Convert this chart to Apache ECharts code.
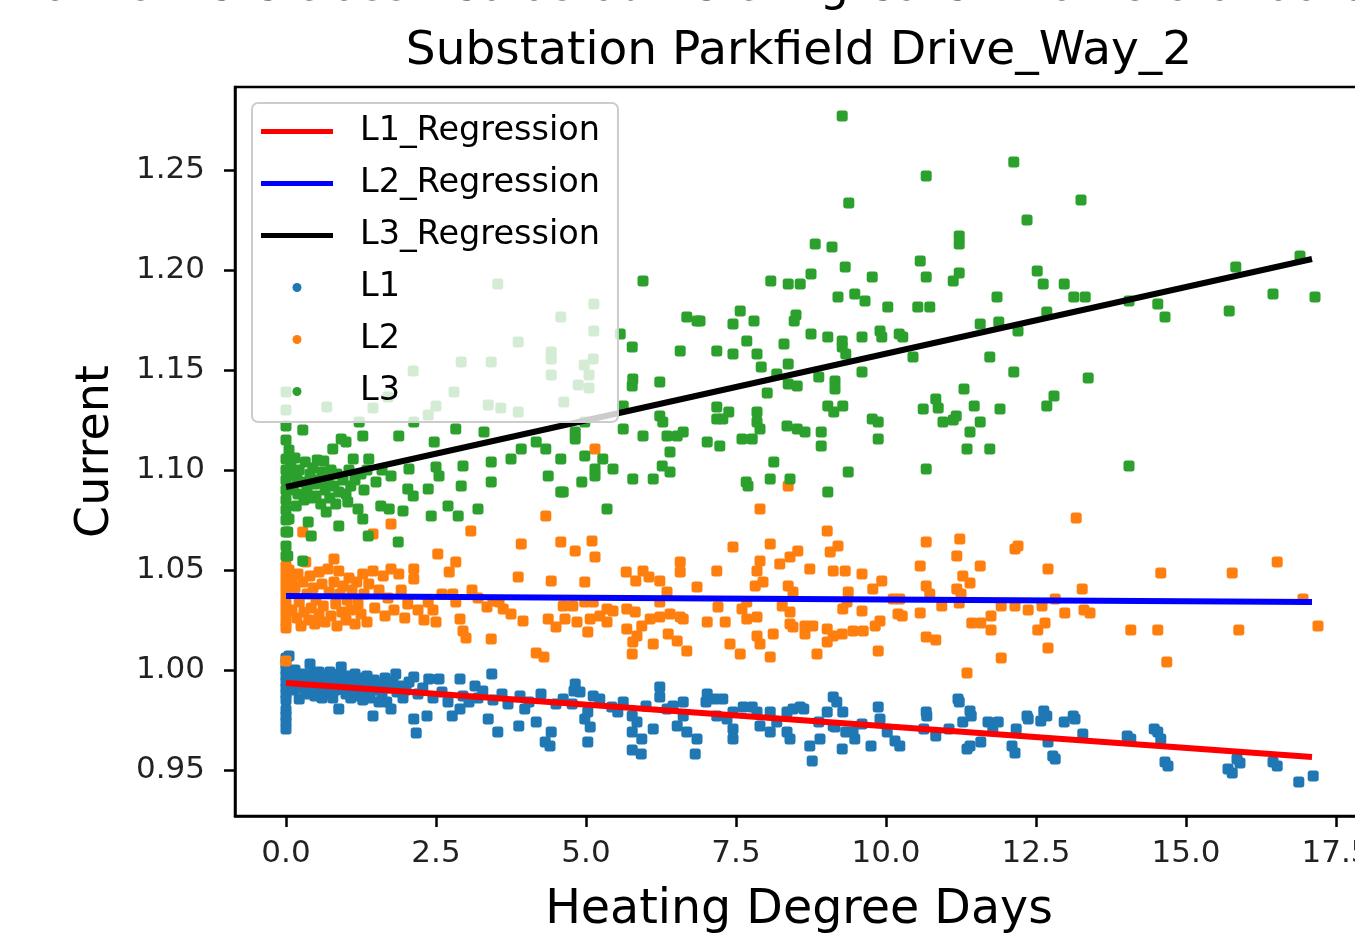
<!DOCTYPE html>
<html>
<head>
<meta charset="utf-8">
<script src="https://cdn.jsdelivr.net/npm/echarts@6/dist/echarts.min.js"></script>
<style>
html,body{margin:0;padding:0;background:#ffffff;}
#chart{width:1355px;height:934px;}
</style>
</head>
<body>
<div id="chart"></div>
<script>
// ---------- text ----------
const chartTitle = 'Substation Parkfield Drive_Way_2';
const topNote = 'Points were classified as outliers if greater than 3 standard deviations';
const xAxisTitle = 'Heating Degree Days';
const yAxisTitle = 'Current';

// ---------- ticks ----------
const xTickValues = [0, 2.5, 5, 7.5, 10, 12.5, 15, 17.5];
const yTickValues = [0.95, 1.00, 1.05, 1.10, 1.15, 1.20, 1.25];

// ---------- regression lines (x range and fitted values at ends) ----------
const regressionX = [0, 17.1];
const l1Regression = [0.9935, 0.9565];
const l2Regression = [1.037, 1.034];
const l3Regression = [1.0915, 1.2055];

// ---------- L1 points [heating degree days, current] ----------
const l1Points = [
[0,1.006],[0,1.003],[0,1.0],[0,0.997],[0,0.994],[0,0.991],[0,0.988],[0,0.985],[0,0.98],[0,0.977],[0,0.974],[0,0.9705],
[0.05,1.007],[0.05,0.999],[0.05,0.993],[0.1,0.996],[0.12,0.99],[0.15,1.0],[0.18,0.993],[0.2,0.997],[0.22,0.9855],[0.25,0.991],
[0.28,0.998],[0.3,0.994],[0.33,0.988],[0.35,0.996],[0.4,1.003],[0.42,0.992],[0.45,0.998],[0.48,0.987],[0.5,0.995],[0.53,0.99],
[0.55,0.999],[0.58,0.993],[0.6,0.986],[0.63,0.997],[0.65,0.991],[0.68,0.995],[0.7,0.988],[0.73,0.999],[0.75,0.993],[0.78,0.986],
[0.8,0.996],[0.83,0.99],[0.85,0.994],[0.88,0.9805],[0.9,0.998],[0.92,1.0015],[0.95,0.991],[0.98,0.995],[1.0,0.988],[1.03,0.997],
[1.05,0.992],[1.08,0.986],[1.1,0.995],[1.13,0.99],[1.15,0.998],[1.18,0.993],[1.2,0.987],[1.23,0.996],[1.25,0.991],[1.28,0.985],
[1.3,0.994],[1.33,0.989],[1.35,0.997],[1.38,0.992],[1.4,0.986],[1.45,0.977],[1.47,0.995],[1.5,0.99],[1.55,0.984],[1.58,0.993],
[1.6,0.988],[1.65,0.996],[1.68,0.984],[1.7,0.991],[1.75,0.9805],[1.78,0.994],[1.83,0.998],[1.85,0.989],[1.9,0.992],[1.95,0.986],
[2.0,0.99],[2.05,0.994],[2.13,0.9965],[2.13,0.9755],[2.17,0.9685],[2.2,0.988],[2.28,0.991],[2.35,0.977],[2.38,0.9955],[2.45,0.986],
[2.55,0.9955],[2.6,0.989],[2.7,0.984],[2.77,0.977],[2.9,0.9805],[2.9,0.9955],[2.95,0.987],[3.05,0.984],[3.15,0.992],[3.2,0.986],
[3.28,0.9895],[3.37,0.9755],[3.43,0.998],[3.45,0.985],[3.53,0.969],[3.6,0.988],[3.7,0.983],[3.88,0.972],[3.9,0.987],[3.98,0.9805],
[4.05,0.984],[4.17,0.974],[4.25,0.988],[4.32,0.964],[4.4,0.962],[4.42,0.969],[4.5,0.983],[4.62,0.9855],[4.77,0.983],[4.8,0.9895],
[4.82,0.993],[4.9,0.989],[4.98,0.9755],[5.03,0.979],[5.03,0.964],[5.07,0.9715],[5.12,0.987],[5.23,0.9855],[5.43,0.9815],[5.53,0.979],
[5.62,0.984],[5.77,0.977],[5.77,0.969],[5.77,0.96],[5.85,0.974],[5.92,0.958],[5.93,0.9655],[6.0,0.982],[6.12,0.9705],[6.23,0.9915],
[6.23,0.9865],[6.35,0.9805],[6.45,0.982],[6.52,0.972],[6.62,0.984],[6.62,0.977],[6.68,0.969],[6.82,0.958],[6.85,0.9655],[7.0,0.984],
[7.02,0.988],[7.15,0.9855],[7.18,0.977],[7.28,0.9855],[7.35,0.9755],[7.45,0.979],[7.45,0.9705],[7.45,0.9655],[7.62,0.9815],[7.77,0.9815],
[7.85,0.979],[7.9,0.972],[8.07,0.979],[8.07,0.969],[8.18,0.974],[8.35,0.979],[8.35,0.969],[8.4,0.9655],[8.45,0.9805],[8.57,0.9815],
[8.63,0.9805],[8.73,0.962],[8.77,0.9545],[8.88,0.974],[8.9,0.9655],[9.02,0.979],[9.12,0.9865],[9.12,0.972],[9.15,0.9715],[9.18,0.984],
[9.27,0.9605],[9.28,0.979],[9.33,0.969],[9.45,0.969],[9.48,0.9655],[9.6,0.973],[9.75,0.962],[9.87,0.9815],[9.9,0.9755],[10.02,0.969],
[10.15,0.9645],[10.23,0.962],[10.63,0.9705],[10.67,0.979],[10.68,0.977],[10.83,0.967],[11.05,0.9705],[11.2,0.9855],[11.22,0.984],[11.28,0.974],
[11.35,0.9605],[11.4,0.9795],[11.4,0.962],[11.42,0.977],[11.58,0.964],[11.7,0.974],[11.78,0.9705],[11.87,0.974],[12.1,0.962],[12.15,0.9585],
[12.17,0.9705],[12.35,0.977],[12.37,0.9755],[12.58,0.9745],[12.63,0.9795],[12.68,0.977],[12.7,0.964],[12.78,0.957],[12.82,0.9555],[12.97,0.974],
[13.12,0.977],[13.15,0.9755],[13.28,0.968],[14.02,0.967],[14.08,0.9655],[14.47,0.9705],[14.53,0.969],[14.58,0.9655],[14.65,0.954],[14.7,0.952],
[15.7,0.9505],[15.77,0.9485],[15.85,0.9555],[15.9,0.9535],[16.45,0.954],[16.52,0.952],[16.88,0.944],[17.12,0.947]
];

// ---------- L2 points ----------
const l2Points = [
[0,1.0045],[0,1.052],[0,1.048],[0,1.044],[0,1.04],[0,1.036],[0,1.032],[0,1.028],[0,1.024],[0,1.021],
[0.05,1.05],[0.1,1.045],[0.1,1.03],[0.15,1.041],[0.18,1.026],[0.2,1.048],[0.22,1.034],[0.25,1.022],[0.28,1.069],[0.28,1.044],
[0.3,1.029],[0.33,1.054],[0.35,1.038],[0.38,1.025],[0.4,1.047],[0.42,1.031],[0.45,1.041],[0.48,1.023],[0.5,1.035],[0.55,1.049],
[0.55,1.028],[0.6,1.043],[0.62,1.032],[0.65,1.024],[0.7,1.0505],[0.72,1.039],[0.75,1.027],[0.8,1.0555],[0.8,1.044],[0.83,1.033],
[0.85,1.022],[0.88,1.0495],[0.9,1.038],[0.93,1.029],[0.95,1.042],[1.0,1.025],[1.02,1.035],[1.05,1.046],[1.08,1.03],[1.1,1.04],
[1.15,1.023],[1.18,1.044],[1.2,1.033],[1.25,1.028],[1.28,1.048],[1.3,1.038],[1.35,1.024],[1.38,1.043],[1.45,1.0495],[1.45,1.068],
[1.48,1.031],[1.55,1.04],[1.62,1.047],[1.65,1.027],[1.7,1.036],[1.75,1.0505],[1.75,1.073],[1.8,1.03],[1.88,1.048],[1.92,1.04],
[1.98,1.026],[2.03,1.033],[2.13,1.0505],[2.13,1.0455],[2.2,1.03],[2.3,1.025],[2.37,1.034],[2.45,1.03],[2.5,1.024],[2.53,1.058],
[2.6,1.038],[2.72,1.049],[2.78,1.038],[2.83,1.054],[2.83,1.034],[2.9,1.0255],[2.95,1.0195],[3.0,1.016],[3.08,1.0695],[3.1,1.04],
[3.2,1.036],[3.35,1.0315],[3.42,1.0155],[3.45,1.0345],[3.55,1.034],[3.62,1.0305],[3.75,1.028],[3.87,1.0465],[3.92,1.063],[3.95,1.0245],
[4.17,1.0085],[4.3,1.0065],[4.33,1.077],[4.37,1.0255],[4.42,1.0445],[4.5,1.0215],[4.58,1.064],[4.62,1.032],[4.65,1.0255],[4.78,1.032],
[4.82,1.0595],[4.85,1.024],[4.98,1.044],[4.98,1.034],[5.03,1.019],[5.07,1.0255],[5.1,1.0645],[5.12,1.034],[5.15,1.0565],[5.15,1.1105],
[5.23,1.027],[5.35,1.0305],[5.35,1.024],[5.45,1.0295],[5.67,1.049],[5.68,1.0305],[5.68,1.0205],[5.77,1.008],[5.78,1.014],[5.82,1.029],
[5.83,1.0445],[5.85,1.017],[5.93,1.022],[5.95,1.0495],[6.05,1.0465],[6.07,1.0255],[6.12,1.013],[6.23,1.0445],[6.23,1.034],[6.23,1.0265],
[6.35,1.039],[6.37,1.018],[6.4,1.028],[6.52,1.0145],[6.57,1.054],[6.57,1.049],[6.57,1.0265],[6.62,1.0255],[6.68,1.0095],[6.85,1.0415],
[7.02,1.024],[7.18,1.0495],[7.2,1.0315],[7.32,1.024],[7.4,1.013],[7.45,1.0615],[7.57,1.008],[7.6,1.0305],[7.68,1.034],[7.68,1.0255],
[7.82,1.042],[7.85,1.0495],[7.85,1.0265],[7.85,1.017],[7.9,1.0805],[7.9,1.0545],[7.9,1.013],[7.95,1.044],[8.07,1.063],[8.07,1.0065],
[8.12,1.018],[8.23,1.053],[8.27,1.032],[8.37,1.092],[8.37,1.042],[8.4,1.0565],[8.4,1.029],[8.4,1.023],[8.45,1.039],[8.45,1.0215],
[8.53,1.0595],[8.65,1.018],[8.65,1.022],[8.73,1.0505],[8.78,1.022],[8.85,1.008],[9.02,1.0695],[9.02,1.0205],[9.02,1.014],[9.07,1.059],
[9.12,1.0495],[9.12,1.017],[9.2,1.062],[9.27,1.018],[9.28,1.0305],[9.32,1.0495],[9.35,1.034],[9.37,1.039],[9.45,1.0195],[9.6,1.048],
[9.6,1.0295],[9.62,1.0195],[9.78,1.0405],[9.82,1.022],[9.87,1.0095],[9.9,1.0245],[9.93,1.0445],[10.12,1.0355],[10.2,1.028],[10.23,1.0355],
[10.27,1.027],[10.57,1.052],[10.57,1.0285],[10.67,1.064],[10.67,1.042],[10.67,1.0165],[10.73,1.038],[10.83,1.015],[10.93,1.032],[11.18,1.057],
[11.18,1.0405],[11.22,1.0335],[11.23,1.0655],[11.25,1.038],[11.28,1.047],[11.35,0.9985],[11.4,1.0435],[11.43,1.0235],[11.57,1.052],[11.58,1.0235],
[11.75,1.02],[11.75,1.027],[11.92,1.006],[11.92,1.032],[12.15,1.0605],[12.15,1.032],[12.2,1.062],[12.37,1.03],[12.53,1.02],[12.6,1.032],
[12.65,1.0235],[12.7,1.0505],[12.7,1.011],[12.82,1.0355],[12.98,1.0285],[13.17,1.076],[13.27,1.0405],[13.3,1.03],[13.4,1.0285],[14.08,1.02],
[14.53,1.02],[14.58,1.0485],[14.68,1.004],[15.77,1.0485],[15.88,1.02],[16.52,1.054],[16.95,1.0355],[17.2,1.022]
];

// ---------- L3 points ----------
const l3Points = [
[0,1.139],[0,1.13],[0,1.122],[0,1.115],[0,1.1055],[0,1.1],[0,1.095],[0,1.09],[0,1.085],[0,1.08],[0,1.075],[0,1.069],[0,1.062],[0,1.057],
[0.03,1.069],[0.03,1.057],[0.05,1.0755],[0.05,1.11],[0.08,1.103],[0.1,1.098],[0.12,1.09],[0.15,1.106],[0.17,1.082],[0.18,1.096],
[0.2,1.088],[0.22,1.1],[0.25,1.094],[0.28,1.12],[0.28,1.0545],[0.3,1.085],[0.32,1.104],[0.35,1.09],[0.37,1.074],[0.4,1.098],
[0.42,1.067],[0.42,1.086],[0.45,1.101],[0.48,1.093],[0.5,1.087],[0.52,1.105],[0.55,1.095],[0.58,1.083],[0.6,1.099],[0.63,1.1045],
[0.65,1.09],[0.67,1.079],[0.68,1.1315],[0.7,1.094],[0.73,1.086],[0.75,1.1],[0.78,1.1105],[0.8,1.092],[0.83,1.083],[0.85,1.098],
[0.88,1.089],[0.88,1.072],[0.92,1.1155],[0.95,1.095],[1.0,1.114],[1.0,1.088],[1.03,1.084],[1.05,1.1],[1.08,1.092],[1.12,1.1055],
[1.15,1.095],[1.2,1.0805],[1.22,1.124],[1.25,1.098],[1.28,1.117],[1.28,1.0755],[1.3,1.09],[1.35,1.1],[1.37,1.067],[1.38,1.1055],
[1.45,1.131],[1.5,1.094],[1.58,1.082],[1.6,1.1],[1.7,1.1365],[1.72,1.0805],[1.75,1.097],[1.87,1.064],[1.88,1.117],[1.95,1.0795],
[2.03,1.0905],[2.05,1.1005],[2.12,1.087],[2.12,1.1495],[2.13,1.124],[2.37,1.0905],[2.37,1.1275],[2.42,1.077],[2.47,1.114],[2.5,1.1015],
[2.5,1.132],[2.55,1.097],[2.7,1.082],[2.8,1.139],[2.83,1.1205],[2.87,1.077],[2.92,1.154],[2.92,1.092],[2.95,1.102],[3.2,1.0805],
[3.3,1.119],[3.37,1.1325],[3.42,1.104],[3.42,1.094],[3.42,1.154],[3.53,1.193],[3.58,1.131],[3.75,1.1055],[3.87,1.164],[3.87,1.129],
[3.92,1.1105],[4.17,1.114],[4.33,1.1105],[4.37,1.097],[4.42,1.159],[4.42,1.1555],[4.42,1.1475],[4.58,1.1765],[4.58,1.1055],[4.58,1.089],
[4.62,1.089],[4.63,1.134],[4.82,1.1155],[4.82,1.119],[4.87,1.1425],[4.93,1.094],[4.97,1.1525],[4.98,1.107],[4.98,1.124],[5.05,1.1475],
[5.05,1.141],[5.12,1.1555],[5.13,1.183],[5.13,1.1695],[5.15,1.1005],[5.15,1.097],[5.28,1.1055],[5.35,1.0805],[5.45,1.1005],[5.57,1.168],
[5.62,1.1205],[5.62,1.132],[5.77,1.142],[5.77,1.1615],[5.78,1.0955],[5.78,1.1455],[5.95,1.117],[5.95,1.1945],[6.12,1.0955],[6.23,1.127],
[6.23,1.144],[6.27,1.102],[6.28,1.124],[6.35,1.117],[6.4,1.099],[6.4,1.109],[6.52,1.117],[6.57,1.1595],[6.62,1.119],[6.68,1.1765],
[6.85,1.1745],[6.9,1.1745],[7.02,1.114],[7.18,1.1595],[7.18,1.1315],[7.18,1.1255],[7.23,1.112],[7.28,1.1255],[7.38,1.129],[7.45,1.173],
[7.45,1.158],[7.57,1.1795],[7.6,1.1155],[7.67,1.094],[7.68,1.1645],[7.7,1.092],[7.77,1.1155],[7.8,1.1745],[7.85,1.158],[7.85,1.129],
[7.85,1.124],[7.9,1.1205],[7.92,1.1515],[8.02,1.1385],[8.07,1.0955],[8.08,1.1945],[8.13,1.104],[8.18,1.148],[8.3,1.163],[8.35,1.122],
[8.37,1.193],[8.37,1.153],[8.37,1.143],[8.4,1.0955],[8.47,1.1745],[8.5,1.1775],[8.52,1.1205],[8.52,1.142],[8.57,1.193],[8.65,1.119],
[8.75,1.198],[8.75,1.168],[8.82,1.213],[8.88,1.1465],[8.92,1.119],[8.92,1.112],[9.03,1.1665],[9.03,1.132],[9.03,1.089],[9.1,1.2115],
[9.13,1.129],[9.15,1.1445],[9.15,1.1405],[9.2,1.1865],[9.27,1.277],[9.27,1.1645],[9.27,1.1615],[9.28,1.132],[9.32,1.2015],[9.33,1.158],
[9.37,1.099],[9.38,1.2335],[9.48,1.188],[9.6,1.1665],[9.6,1.149],[9.65,1.1845],[9.77,1.1965],[9.77,1.1255],[9.87,1.124],[9.87,1.1155],
[9.9,1.1695],[9.93,1.1665],[10.03,1.1815],[10.22,1.168],[10.28,1.1665],[10.45,1.1565],[10.53,1.1815],[10.57,1.2045],[10.62,1.1305],[10.67,1.247],
[10.67,1.1965],[10.67,1.1005],[10.73,1.1815],[10.83,1.1355],[10.87,1.131],[10.95,1.124],[11.12,1.1945],[11.12,1.125],[11.17,1.127],[11.22,1.217],
[11.22,1.213],[11.22,1.1985],[11.3,1.1405],[11.35,1.1105],[11.4,1.119],[11.47,1.132],[11.57,1.173],[11.57,1.124],[11.73,1.1565],[11.73,1.1105],
[11.85,1.1865],[11.88,1.174],[11.9,1.1305],[12.13,1.254],[12.13,1.149],[12.2,1.1695],[12.35,1.225],[12.52,1.1995],[12.62,1.193],[12.68,1.179],
[12.68,1.132],[12.8,1.137],[12.97,1.193],[13.13,1.1865],[13.25,1.235],[13.32,1.1865],[13.37,1.146],[14.05,1.1845],[14.05,1.102],[14.53,1.183],
[14.65,1.1765],[15.72,1.1795],[15.83,1.2015],[16.45,1.188],[16.9,1.207],[17.15,1.1865]
];

// ---------- build ----------
const FONT = '"DejaVu Sans", "Liberation Sans", sans-serif';
const COLORS = { L1: '#1f77b4', L2: '#ff7f0e', L3: '#2ca02c', R1: '#ff0000', R2: '#0000ff', R3: '#000000' };
const lineIcon = 'path://M0,0L72,0L72,5L0,5Z';

function regLine(vals) { return regressionX.map((x, i) => [x, vals[i]]); }
function scatter(name, pts, color) {
  return { name: name, type: 'scatter', data: pts, symbol: 'roundRect', symbolSize: 11,
           itemStyle: { color: color, opacity: 1 }, z: 2, animation: false, emphasis: { disabled: true } };
}
function line(name, vals, color) {
  return { name: name, type: 'line', data: regLine(vals), showSymbol: false, symbol: 'none',
           color: color, lineStyle: { color: color, width: 6 }, itemStyle: { color: color },
           z: 3, animation: false, emphasis: { disabled: true } };
}

const chart = echarts.init(document.getElementById('chart'), null, { renderer: 'canvas' });
chart.setOption({
  animation: false,
  backgroundColor: '#ffffff',
  grid: { left: 235, top: 87, width: 1128, height: 729, show: true, borderColor: '#000', borderWidth: 2.5,
          backgroundColor: 'transparent', containLabel: false, outerBoundsMode: 'none' },
  xAxis: {
    type: 'value', min: -0.85, max: 17.95,
    name: xAxisTitle, nameLocation: 'middle', nameGap: 71,
    nameTextStyle: { fontFamily: FONT, fontSize: 47.5, color: '#000' },
    axisLine: { show: true, onZero: false, lineStyle: { color: '#000', width: 2.5 } },
    axisTick: { show: true, length: 11, lineStyle: { color: '#000', width: 2.5 }, customValues: xTickValues },
    axisLabel: { fontFamily: FONT, fontSize: 31, color: '#222', margin: 22, customValues: xTickValues,
                 formatter: v => v.toFixed(1) },
    splitLine: { show: false }
  },
  yAxis: {
    type: 'value', min: 0.927, max: 1.2915,
    name: yAxisTitle, nameLocation: 'middle', nameGap: 116,
    nameTextStyle: { fontFamily: FONT, fontSize: 46, color: '#000' },
    axisLine: { show: true, onZero: false, lineStyle: { color: '#000', width: 2.5 } },
    axisTick: { show: true, length: 11, lineStyle: { color: '#000', width: 2.5 }, customValues: yTickValues },
    axisLabel: { fontFamily: FONT, fontSize: 31, color: '#222', margin: 30, customValues: yTickValues,
                 formatter: v => v.toFixed(2) },
    splitLine: { show: false }
  },
  legend: {
    orient: 'vertical', left: 252, top: 103,
    data: [
      { name: 'L1_Regression', icon: lineIcon },
      { name: 'L2_Regression', icon: lineIcon },
      { name: 'L3_Regression', icon: lineIcon },
      { name: 'L1', icon: 'circle' },
      { name: 'L2', icon: 'circle' },
      { name: 'L3', icon: 'circle' }
    ],
    itemWidth: 72, itemHeight: 9, itemGap: 15,
    selectedMode: false,
    textStyle: { fontFamily: FONT, fontSize: 33.5, color: '#000', lineHeight: 37, padding: [0, 0, 0, 22] },
    padding: [10, 18, 12, 9],
    backgroundColor: 'rgba(255,255,255,0.8)', borderColor: '#cccccc', borderWidth: 2, borderRadius: 6,
    z: 4
  },
  graphic: [
    { type: 'text', x: 799, y: 52, silent: true,
      style: { text: chartTitle, font: '47px ' + FONT, fill: '#000', align: 'center', verticalAlign: 'middle' } },
    { type: 'text', x: 15, y: -12, silent: true,
      style: { text: topNote, font: '46px ' + FONT, fill: '#000', align: 'left', verticalAlign: 'middle' } }
  ],
  series: [
    scatter('L1', l1Points, COLORS.L1),
    scatter('L2', l2Points, COLORS.L2),
    scatter('L3', l3Points, COLORS.L3),
    line('L1_Regression', l1Regression, COLORS.R1),
    line('L2_Regression', l2Regression, COLORS.R2),
    line('L3_Regression', l3Regression, COLORS.R3)
  ]
});
</script>
</body>
</html>
